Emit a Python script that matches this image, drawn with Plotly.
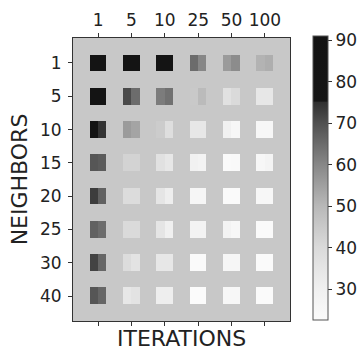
import plotly.graph_objects as go

iterations = ["1", "5", "10", "25", "50", "100"]
neighbors = ["1", "5", "10", "15", "20", "25", "30", "40"]

# left half / right half value of each square (rows = neighbors, cols = iterations)
values_left = [
    [88, 87, 86, 65, 56, 51],
    [86, 71, 62, 45, 37, 34],
    [88, 56, 44, 34, 29, 25],
    [69, 42, 37, 29, 23, 25],
    [73, 39, 35, 26, 23, 25],
    [67, 40, 35, 28, 28, 23],
    [72, 39, 34, 23, 26, 23],
    [69, 34, 31, 22.5, 25, 23],
]
values_right = [
    [88, 86, 87, 60, 59, 52],
    [86, 65, 64, 49, 40, 34],
    [74.5, 54, 38, 34, 25, 25],
    [68, 42, 34, 28, 24, 27],
    [67, 39, 31, 26, 23, 25],
    [65, 40, 30, 28, 25, 23],
    [66, 36, 34, 23, 26, 23],
    [66, 36, 31, 22.5, 25, 23],
]

zmin, zmax = 22.5, 91.0
stops = [(22.5, "#fbfbfb"), (30, "#f0f0f0"), (40, "#dadada"), (50, "#b8b8b8"),
         (60, "#878787"), (70, "#505050"), (75, "#303030"), (75.3, "#161616"),
         (91, "#131313")]
colorscale = [[(v - zmin) / (zmax - zmin), c] for v, c in stops]

nr, nc = len(neighbors), len(iterations)
offs = [-0.375, -0.125, 0.125, 0.375]
xs = [c + o for c in range(nc) for o in offs]
ys = [r + o for r in range(nr) for o in offs]
z = []
for r in range(nr):
    for j in range(4):
        row = []
        for c in range(nc):
            if j in (1, 2):
                row += [None, values_left[r][c], values_right[r][c], None]
            else:
                row += [None, None, None, None]
        z.append(row)

fig = go.Figure(go.Heatmap(
    x=xs, y=ys, z=z, zmin=zmin, zmax=zmax, colorscale=colorscale,
    hoverongaps=False,
    colorbar=dict(
        thickness=14.6, thicknessmode="pixels",
        len=1.005, lenmode="fraction",
        x=1.105, xanchor="left", xpad=0,
        y=1.006, yanchor="top", ypad=0,
        outlinewidth=1, outlinecolor="#555555",
        tickvals=[30, 40, 50, 60, 70, 80, 90],
        ticks="outside", ticklen=4, tickcolor="#333333",
        tickfont=dict(family="DejaVu Sans", size=17, color="#222222"),
    ),
))

axis_common = dict(showgrid=False, zeroline=False, showline=True, linecolor="#333333",
                   linewidth=1, ticks="outside", ticklen=4, tickcolor="#333333",
                   tickfont=dict(family="DejaVu Sans", size=17, color="#222222"))

fig.update_layout(
    width=359, height=350,
    margin=dict(l=73, r=69, t=38, b=29, autoexpand=False),
    paper_bgcolor="white", plot_bgcolor="#c8c8c8",
    xaxis=dict(side="top", range=[-0.75, 5.75], tickmode="array",
               tickvals=list(range(nc)), ticktext=iterations, mirror="ticks",
               ticklabelstandoff=0, automargin=False, **axis_common),
    yaxis=dict(range=[7.75, -0.75], tickmode="array", tickvals=list(range(nr)),
               ticktext=neighbors, mirror=True, ticklabelstandoff=3, automargin=False,
               title=dict(text="NEIGHBORS", font=dict(family="DejaVu Sans", size=22, color="#222222"),
                          standoff=6),
               **axis_common),
    annotations=[dict(text="ITERATIONS", xref="paper", yref="paper", x=0.5, y=0,
                      xanchor="center", yanchor="top", yshift=-3, showarrow=False,
                      font=dict(family="DejaVu Sans", size=22, color="#222222"))],
)

fig.write_html("out.html", config={"displayModeBar": False},
               post_script="document.body.style.margin='0';document.body.style.overflow='hidden';")
